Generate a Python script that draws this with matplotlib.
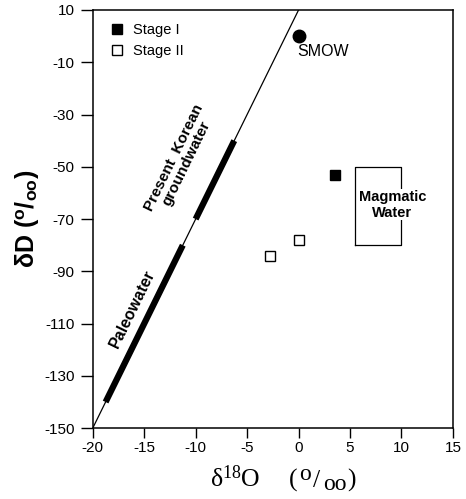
import matplotlib
matplotlib.use("Agg")
import matplotlib.pyplot as plt
import numpy as np

plt.rcParams['font.family'] = ['Liberation Sans', 'DejaVu Sans']
plt.rcParams['axes.unicode_minus'] = False
plt.rcParams['mathtext.fontset'] = 'custom'
plt.rcParams['mathtext.rm'] = 'Liberation Serif'
plt.rcParams['mathtext.bf'] = 'Liberation Sans:bold'
plt.rcParams['mathtext.it'] = 'Liberation Serif:italic'

# Data
mwl_x = [-20, 0]                 # meteoric water line endpoints (dD = 8 d18O + 10)
mwl_y = [-150, 10]
paleo_d = [-140, -80]            # Paleowater dD range on MWL
korean_d = [-40, -70]            # Present Korean groundwater dD range on MWL
smow = (0, 0)
stage1_x = [3.5]
stage1_y = [-53]
stage2_x = [0, -2.8]
stage2_y = [-78, -84]
magmatic_x = [5.5, 10]
magmatic_y = [-80, -50]

xticks = [-20, -15, -10, -5, 0, 5, 10, 15]
yticks = [10, -10, -30, -50, -70, -90, -110, -130, -150]

def mwl_o(d):
    return (d - 10) / 8.0

W, H = 466, 499
fig = plt.figure(figsize=(W / 100, H / 100), dpi=100)
ax = fig.add_axes([0.199, 0.142, 0.773, 0.838])

ax.plot(mwl_x, mwl_y, color='black', lw=0.9, zorder=2)
ax.plot([mwl_o(v) for v in paleo_d], paleo_d, color='black', lw=4.5,
        solid_capstyle='butt', zorder=3)
ax.plot([mwl_o(v) for v in korean_d], korean_d, color='black', lw=4.5,
        solid_capstyle='butt', zorder=3)

ax.plot([smow[0]], [smow[1]], 'o', color='black', ms=9, zorder=4)
ax.plot(stage1_x, stage1_y, 's', color='black', ms=6.5, zorder=4, label='Stage I')
ax.plot(stage2_x, stage2_y, 's', mfc='white', mec='black', mew=1.0, ms=6.5,
        zorder=4, label='Stage II')

# Magmatic water box
ax.plot([magmatic_x[0], magmatic_x[1], magmatic_x[1], magmatic_x[0], magmatic_x[0]],
        [magmatic_y[0], magmatic_y[0], magmatic_y[1], magmatic_y[1], magmatic_y[0]],
        color='black', lw=0.9, zorder=2)
ax.text(9.1, -64.5, 'Magmatic\nWater', ha='center', va='center', fontsize=10.5,
        fontweight='bold', linespacing=1.15, zorder=5,
        bbox=dict(facecolor='white', edgecolor='none', pad=0.3))

ax.text(2.4, -6, 'SMOW', ha='center', va='center', fontsize=11.5)

ax.text(-11.5, -47.5, 'Present  Korean\ngroundwater', ha='center', va='center',
        rotation=64, fontsize=11, fontweight='bold', linespacing=1.0,
        rotation_mode='anchor')
ax.text(-16.1, -104.5, 'Paleowater', ha='center', va='center',
        rotation=64, fontsize=11.5, fontweight='bold', rotation_mode='anchor')

leg = ax.legend(loc='upper left', frameon=False, fontsize=10.5, handlelength=0.6,
                handletextpad=0.8, borderaxespad=0.5, labelspacing=0.45,
                bbox_to_anchor=(0.02, 1.0))

ax.set_xlim(-20, 15)
ax.set_ylim(-150, 10)
ax.set_xticks(xticks)
ax.set_yticks(yticks)
ax.tick_params(direction='out', width=1.0, labelsize=11)
ax.tick_params(axis='y', length=8.5, pad=4.5)
ax.tick_params(axis='x', length=7.5, pad=1.5)
for s in ax.spines.values():
    s.set_linewidth(1.1)

ax.set_ylabel(r'δD ($^{\mathbf{o}}$/$_{\mathbf{oo}}$)', fontsize=18, fontweight='bold',
              labelpad=2)

# x-axis label built from pieces (serif), positions in pixels
def ftext(px, py, s, size):
    fig.text(px / W, 1 - py / H, s, ha='left', va='baseline', fontsize=size,
             fontfamily='Liberation Serif')

ftext(210, 487, r'δ$^{18}$O', 18.5)
ftext(289, 487, '(', 18.5)
ftext(299.5, 480, 'o', 17)
ftext(313, 487, '/', 18.5)
ftext(323, 490, 'oo', 17)
ftext(347, 487, ')', 18.5)

fig.savefig('out.png', dpi=100)
